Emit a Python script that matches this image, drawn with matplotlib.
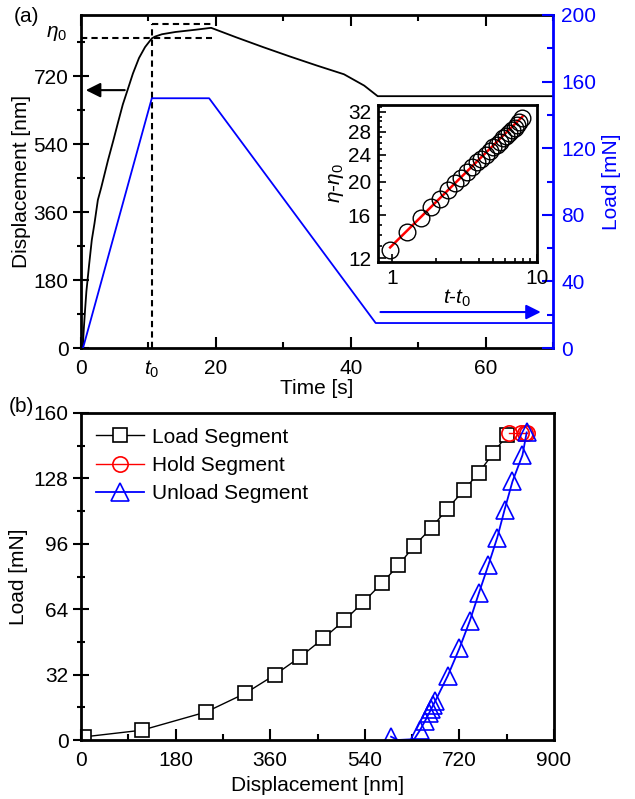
import matplotlib
matplotlib.use("Agg")
import matplotlib.pyplot as plt
from matplotlib.ticker import MultipleLocator, FixedLocator, NullFormatter

plt.rcParams['font.family'] = ['Liberation Sans', 'DejaVu Sans']
plt.rcParams['font.size'] = 15
plt.rcParams['mathtext.fontset'] = 'custom'
plt.rcParams['mathtext.rm'] = 'Liberation Sans'
plt.rcParams['mathtext.it'] = 'Liberation Sans:italic'
plt.rcParams['axes.linewidth'] = 2.0

# ---- (a) displacement / load vs time ----
time_disp = [0.3, 0.35, 0.45, 0.6, 0.8, 1.0, 1.2, 1.6, 2.0, 2.5, 3.0, 4.0, 4.8, 5.5, 6.2,
             6.9, 7.7, 8.6, 9.5, 10.5, 11.0, 12.0, 14.0, 17.0, 19.3, 23.0, 27.0, 31.0,
             35.0, 39.0, 42.0, 44.0, 70.0]
disp = [0, 30, 60, 100, 150, 185, 220, 286, 330, 392, 425, 497, 550, 598, 645,
        683, 727, 768, 797, 820, 825, 831, 837, 843, 848, 823, 797, 772,
        748, 725, 695, 667, 667]
time_load = [0.3, 10.5, 19.0, 43.7, 70.0]
load = [0, 150, 150, 15, 15]
t0 = 10.5
eta0 = 820
eta_top = 857
t_hold_end = 19.4

# inset: creep during hold, log-log
creep_t = [0.97, 1.27, 1.58, 1.86, 2.14, 2.43, 2.71, 3.0, 3.28, 3.57, 3.86, 4.14, 4.43,
           4.71, 5.0, 5.28, 5.57, 5.85, 6.14, 6.43, 6.71, 7.0, 7.28, 7.57, 7.85]
creep_eta = [12.7, 14.3, 15.7, 16.9, 17.9, 18.9, 19.8, 20.6, 21.4, 22.1, 22.8, 23.4, 24.0,
             24.6, 25.2, 25.7, 26.2, 26.8, 27.3, 27.8, 28.3, 28.8, 29.3, 29.8, 30.8]
fit_t = [0.97, 7.93]
fit_eta = [12.9, 31.0]

# ---- (b) load vs displacement ----
load_x = [5, 116, 238, 313, 369, 417, 461, 501, 537, 572, 604, 634, 667, 697, 728, 757, 784, 810]
load_y = [1.5, 4.8, 13.7, 22.9, 31.9, 40.6, 49.7, 58.5, 67.4, 76.6, 85.5, 95.0, 103.9,
          113.1, 122.1, 130.8, 140.2, 149.0]
hold_x = [815, 838, 845, 848]
hold_y = [150.3, 150.3, 150.3, 150.3]
unload_x = [848, 840, 821, 806, 792, 775, 757, 740, 720, 698, 674, 670, 666, 662, 655, 645,
            634, 603, 590]
unload_y = [150.5, 139.4, 126.5, 112.7, 99.0, 85.5, 71.8, 58.4, 44.8, 31.5, 19.0, 17.0, 15.0,
            13.0, 9.5, 4.8, 0.4, 0.0, 1.6]
unload_marked = [i for i in range(len(unload_x)) if i not in (16, 17)]

W, H = 635, 799
fig = plt.figure(figsize=(W / 100, H / 100), dpi=100)


def rect(x0, y0, x1, y1):
    return [x0 / W, 1 - y1 / H, (x1 - x0) / W, (y1 - y0) / H]


ax1 = fig.add_axes(rect(81, 15, 553, 348))
ax1.plot(time_disp, disp, color='black', lw=1.3)
ax1.plot([t0, t0], [0, eta_top], color='black', lw=1.5, ls=(0, (3, 2)))
ax1.plot([0, t_hold_end], [eta0, eta0], color='black', lw=1.5, ls=(0, (3, 2)))
ax1.plot([t0, t_hold_end], [eta_top, eta_top], color='black', lw=1.5, ls=(0, (3, 2)))
ax1.set_xlim(0, 70)
ax1.set_ylim(0, 882)
ax1.xaxis.set_major_locator(MultipleLocator(20))
ax1.xaxis.set_minor_locator(MultipleLocator(10))
ax1.yaxis.set_major_locator(MultipleLocator(180))
ax1.yaxis.set_minor_locator(MultipleLocator(90))
ax1.tick_params(axis='x', which='both', direction='in', top=True, width=1.5, pad=8)
ax1.tick_params(axis='x', which='major', length=8)
ax1.tick_params(axis='x', which='minor', length=4)
ax1.tick_params(axis='y', which='both', direction='inout', width=1.5, pad=3)
ax1.tick_params(axis='y', which='major', length=12)
ax1.tick_params(axis='y', which='minor', length=6)
ax1.spines['right'].set_visible(False)
ax1.set_xlabel('Time [s]', labelpad=1)
ax1.set_ylabel('Displacement [nm]', labelpad=2)
ax1.annotate(r'$t_\mathrm{0}$', xy=(t0, 0), xycoords=('data', 'axes fraction'),
             xytext=(0, -8), textcoords='offset points', ha='center', va='top')
ax1.annotate(r'$\eta_\mathrm{0}$', xy=(0, 833), xycoords=('axes fraction', 'data'),
             xytext=(-10, 0), textcoords='offset points', ha='right', va='center')
ax1.annotate('', xy=(0.3, 683), xytext=(6.9, 683),
             arrowprops=dict(arrowstyle='-|>', color='black', lw=1.5, mutation_scale=22))

ax1r = ax1.twinx()
ax1r.plot(time_load, load, color='blue', lw=1.3)
ax1r.set_ylim(0, 200)
ax1r.yaxis.set_major_locator(MultipleLocator(40))
ax1r.yaxis.set_minor_locator(MultipleLocator(20))
ax1r.tick_params(axis='y', which='both', direction='in', colors='blue', width=1.5, pad=6)
ax1r.tick_params(axis='y', which='major', length=8)
ax1r.tick_params(axis='y', which='minor', length=4)
for s in ['left', 'top', 'bottom']:
    ax1r.spines[s].set_visible(False)
ax1r.spines['right'].set_color('blue')
ax1r.set_ylabel('Load [mN]', color='blue', labelpad=4)
ax1r.annotate('', xy=(68.6, 21.6), xytext=(44.0, 21.6),
              arrowprops=dict(arrowstyle='-|>', color='blue', lw=1.5, mutation_scale=22))

fig.text(14 / W, 1 - 17 / H, '(a)', ha='left', va='center')

# inset
axi = fig.add_axes(rect(378, 105, 537, 262))
axi.set_zorder(5)
axi.plot(fit_t, fit_eta, color='red', lw=1.8, zorder=2)
axi.plot(creep_t, creep_eta, ls='none', marker='o', ms=12, mfc='none', mec='black',
         mew=1.0, zorder=3)
axi.set_xscale('log')
axi.set_yscale('log')
axi.set_xlim(0.8, 10)
axi.set_ylim(11.7, 33.5)
axi.xaxis.set_major_locator(FixedLocator([1, 10]))
axi.xaxis.set_major_formatter(plt.FixedFormatter(['1', '10']))
axi.xaxis.set_minor_locator(FixedLocator([2, 3, 4, 5, 6, 7, 8, 9]))
axi.xaxis.set_minor_formatter(NullFormatter())
axi.yaxis.set_major_locator(FixedLocator([12, 16, 20, 24, 28, 32]))
axi.yaxis.set_major_formatter(plt.FixedFormatter(['12', '16', '20', '24', '28', '32']))
axi.yaxis.set_minor_locator(FixedLocator(list(range(12, 34))))
axi.yaxis.set_minor_formatter(NullFormatter())
axi.tick_params(which='both', direction='in', width=1.2)
axi.tick_params(which='major', length=6, pad=5)
axi.tick_params(which='minor', length=3)
axi.set_xlabel(r'$t$-$t_\mathrm{0}$', labelpad=0)
axi.set_ylabel(r'$\eta$-$\eta_\mathrm{0}$', labelpad=1)

# ---- (b) ----
ax2 = fig.add_axes(rect(81, 413, 554, 740))
ax2.plot(load_x, load_y, color='black', lw=1.0, marker='s', ms=10, mfc='white',
         mec='black', mew=1.2, label='Load Segment')
ax2.plot(hold_x, hold_y, color='red', lw=1.0, marker='o', ms=11, mfc='none',
         mec='red', mew=1.2, label='Hold Segment')
ax2.plot(unload_x, unload_y, color='blue', lw=1.3, marker='^', ms=13, mfc='none',
         mec='blue', mew=1.2, markevery=unload_marked, label='Unload Segment')
ax2.set_xlim(0, 900)
ax2.set_ylim(0, 160)
ax2.xaxis.set_major_locator(MultipleLocator(180))
ax2.xaxis.set_minor_locator(MultipleLocator(90))
ax2.yaxis.set_major_locator(MultipleLocator(32))
ax2.yaxis.set_minor_locator(MultipleLocator(16))
ax2.tick_params(axis='x', which='both', direction='in', width=1.5, pad=8)
ax2.tick_params(axis='x', which='major', length=8)
ax2.tick_params(axis='x', which='minor', length=4)
ax2.tick_params(axis='y', which='both', direction='inout', width=1.5, pad=3)
ax2.tick_params(axis='y', which='major', length=12)
ax2.tick_params(axis='y', which='minor', length=6)
ax2.set_xlabel('Displacement [nm]', labelpad=4)
ax2.set_ylabel('Load [mN]', labelpad=4)
ax2.legend(loc='upper left', frameon=False, handlelength=2.3, labelspacing=0.45,
           handletextpad=0.4, borderaxespad=0.3)

fig.text(9 / W, 1 - 406 / H, '(b)', ha='left', va='center')

fig.savefig('out.png', dpi=100)
